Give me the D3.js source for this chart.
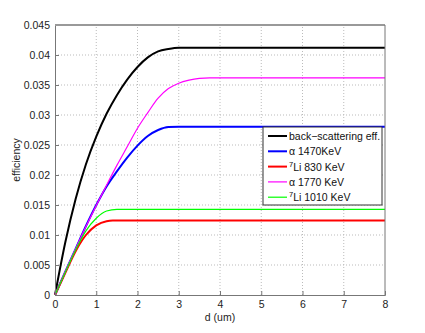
<!DOCTYPE html>
<html>
<head>
<meta charset="utf-8">
<script src="https://cdn.jsdelivr.net/npm/d3@7"></script>
<style>
  body { margin: 0; background: #fff; }
  text { font-family: "Liberation Sans", Arial, sans-serif; }
</style>
</head>
<body>
<div id="chart"></div>
<script>
// values: [d (um), efficiency]
const backScattering = [[0,0],[0.25,0.0088],[0.5,0.016],[0.75,0.0218],[1,0.0264],[1.25,0.0302],[1.5,0.0333],[1.75,0.0359],[2,0.038],[2.25,0.0396],[2.5,0.0406],[2.75,0.041],[3,0.0412],[8,0.0412]];
const alpha1470 = [[0,0],[0.25,0.0039],[0.5,0.0077],[0.75,0.0115],[1,0.015],[1.25,0.0181],[1.5,0.0206],[1.75,0.0229],[2,0.0249],[2.25,0.0265],[2.5,0.0275],[2.75,0.028],[3,0.02805],[8,0.02805]];
const li830 = [[0,0],[0.25,0.0037],[0.5,0.0073],[0.75,0.01],[1,0.0116],[1.25,0.0123],[1.4,0.0124],[8,0.0124]];
const alpha1770 = [[0,0],[0.25,0.0039],[0.5,0.0077],[0.75,0.0114],[1,0.0149],[1.25,0.0183],[1.5,0.0216],[1.75,0.0247],[2,0.0278],[2.25,0.0304],[2.5,0.0328],[2.75,0.0344],[3,0.0353],[3.25,0.0358],[3.5,0.0361],[3.75,0.0362],[8,0.0362]];
const li1010 = [[0,0],[0.25,0.0038],[0.5,0.0075],[0.75,0.0107],[1,0.0128],[1.25,0.014],[1.5,0.01428],[8,0.01428]];

const xTicks = [0,1,2,3,4,5,6,7,8];
const yTicks = [0,0.005,0.01,0.015,0.02,0.025,0.03,0.035,0.04,0.045];

const series = [
  {sup: "", label: "back\u2212scattering eff.", data: backScattering, color: "#000000", w: 2},
  {sup: "", label: "\u03b1 1470KeV", data: alpha1470, color: "#0000ff", w: 2},
  {sup: "7", label: "Li 830 KeV", data: li830, color: "#ff0000", w: 2},
  {sup: "", label: "\u03b1 1770 KeV", data: alpha1770, color: "#ff00ff", w: 1.2},
  {sup: "7", label: "Li 1010 KeV", data: li1010, color: "#00ff00", w: 1.2}
];

const width = 425, height = 333;
const m = {left: 55, right: 40, top: 25, bottom: 38};

const x = d3.scaleLinear().domain([0, 8]).range([m.left, width - m.right]);
const y = d3.scaleLinear().domain([0, 0.045]).range([height - m.bottom, m.top]);

const svg = d3.select("#chart").append("svg")
  .attr("width", width)
  .attr("height", height);

// grid
svg.append("g").selectAll("line")
  .data(xTicks.slice(1, -1))
  .enter().append("line")
    .attr("x1", d => x(d)).attr("x2", d => x(d))
    .attr("y1", y(0)).attr("y2", y(0.045))
    .attr("stroke", "#bbb").attr("stroke-dasharray", "1,2");
svg.append("g").selectAll("line")
  .data(yTicks.slice(1, -1))
  .enter().append("line")
    .attr("x1", x(0)).attr("x2", x(8))
    .attr("y1", d => y(d)).attr("y2", d => y(d))
    .attr("stroke", "#bbb").attr("stroke-dasharray", "1,2");

// curves
const line = d3.line()
  .x(d => x(d[0]))
  .y(d => y(d[1]))
  .curve(d3.curveMonotoneX);

series.forEach(s => {
  svg.append("path")
    .datum(s.data)
    .attr("d", line)
    .attr("fill", "none")
    .attr("stroke", s.color)
    .attr("stroke-width", s.w);
});

// axes with inward ticks
const axeX = d3.axisBottom(x).tickValues(xTicks).tickSize(-4).tickPadding(6).tickFormat(d3.format("d"));
const axeY = d3.axisLeft(y).tickValues(yTicks).tickSize(-4).tickPadding(5)
  .tickFormat(d => d === 0 ? "0" : d3.format(".3~f")(d));

const gx = svg.append("g")
  .attr("transform", `translate(0,${y(0)})`)
  .call(axeX);
const gy = svg.append("g")
  .attr("transform", `translate(${x(0)},0)`)
  .call(axeY);

[gx, gy].forEach(g => {
  g.select(".domain").attr("stroke", "#777");
  g.selectAll(".tick line").attr("stroke", "#777");
  g.selectAll("text").attr("font-size", 10.5).attr("fill", "#222")
    .style("font-family", "'Liberation Sans', Arial, sans-serif");
});

// top and right of the box
svg.append("line")
  .attr("x1", x(0)).attr("x2", x(8)).attr("y1", y(0.045)).attr("y2", y(0.045))
  .attr("stroke", "#999").attr("stroke-width", 2);
svg.append("line")
  .attr("x1", x(8)).attr("x2", x(8)).attr("y1", y(0.045)).attr("y2", y(0))
  .attr("stroke", "#777");

// axis titles
svg.append("text")
  .attr("x", x(4)).attr("y", height - 12)
  .attr("text-anchor", "middle").attr("font-size", 10.5).attr("fill", "#222")
  .text("d (um)");
svg.append("text")
  .attr("transform", `translate(20,${y(0.0225)}) rotate(-90)`)
  .attr("text-anchor", "middle").attr("font-size", 10.5).attr("fill", "#222")
  .text("efficiency");

// legend
const lg = svg.append("g").attr("transform", "translate(263,127)");
lg.append("rect")
  .attr("width", 119).attr("height", 78)
  .attr("fill", "#fff").attr("stroke", "#333").attr("stroke-width", 1);

const row = lg.selectAll("g.row")
  .data(series)
  .enter().append("g")
    .attr("transform", (d, i) => `translate(0,${9 + i * 15.3})`);
row.append("line")
  .attr("x1", 5).attr("x2", 24)
  .attr("stroke", d => d.color)
  .attr("stroke-width", d => d.w);
const t = row.append("text")
  .attr("x", 26).attr("y", 4)
  .attr("font-size", 10.5).attr("fill", "#111");
t.filter(d => d.sup).append("tspan")
  .attr("dy", -4).attr("font-size", 7.5)
  .text(d => d.sup);
t.append("tspan")
  .attr("dy", d => d.sup ? 4 : 0)
  .text(d => d.label);
</script>
</body>
</html>
